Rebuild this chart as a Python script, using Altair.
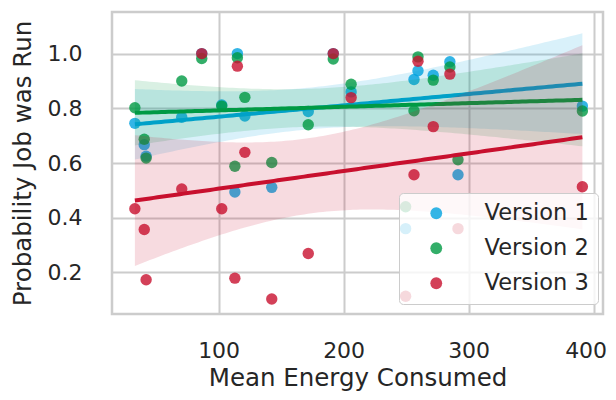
import altair as alt
import pandas as pd
import numpy as np

energy = [33, 40.5, 42, 70.5, 86.5, 102.5, 113, 115, 121, 142.5,
          171.7, 191.7, 206, 249.6, 256.3, 259.5, 271.7, 285, 291.5, 391]
v1 = [0.745, 0.667, 0.625, 0.767, 1.0, 0.812, 0.494, 1.0, 0.772, 0.511,
      0.788, 1.0, 0.86, 0.36, 0.905, 0.937, 0.921, 0.97, 0.557, 0.808]
v2 = [0.802, 0.687, 0.618, 0.90, 0.982, 0.808, 0.588, 0.985, 0.84, 0.602,
      0.74, 0.98, 0.888, 0.44, 0.791, 0.988, 0.903, 0.951, 0.612, 0.79]
v3 = [0.433, 0.357, 0.173, 0.505, 1.0, 0.433, 0.179, 0.954, 0.639, 0.103,
      0.269, 1.0, 0.839, 0.113, 0.557, 0.972, 0.733, 0.925, 0.36, 0.513]
versions = ["Version 1", "Version 2", "Version 3"]
colors = ["#00a3e0", "#009a44", "#c8102e"]
x_ticks = [100, 200, 300, 400]
y_ticks = [0.2, 0.4, 0.6, 0.8, 1.0]

rows = []
for name, vals in zip(versions, [v1, v2, v3]):
    for xv, yv in zip(energy, vals):
        rows.append({"energy": xv, "prob": yv, "version": name})
df = pd.DataFrame(rows)


def huber_fit(x, y, t=1.345, iters=100):
    X = np.column_stack([np.ones_like(x), x])
    beta = np.linalg.lstsq(X, y, rcond=None)[0]
    w = np.ones_like(y)
    for _ in range(iters):
        r = y - X @ beta
        scale = np.median(np.abs(r - np.median(r))) / 0.6745
        u = np.abs(r / scale)
        w = np.where(u <= t, 1.0, t / np.maximum(u, 1e-12))
        W = np.sqrt(w)
        nb = np.linalg.lstsq(X * W[:, None], y * W, rcond=None)[0]
        if np.allclose(nb, beta, atol=1e-10):
            beta = nb
            break
        beta = nb
    return beta, w


band_rows = []
for name, vals in zip(versions, [v1, v2, v3]):
    x = np.array(energy, dtype=float)
    y = np.array(vals, dtype=float)
    (b0, b1), w = huber_fit(x, y)
    r = y - (b0 + b1 * x)
    sw = w.sum()
    xm = (w * x).sum() / sw
    sxx = (w * (x - xm) ** 2).sum()
    s = np.sqrt((w * r ** 2).sum() / (sw - 2))
    grid = np.linspace(x.min(), x.max(), 120)
    se = s * np.sqrt(1.0 / sw + (grid - xm) ** 2 / sxx)
    yh = b0 + b1 * grid
    for g, yy, lo, hi in zip(grid, yh, yh - 1.96 * se, yh + 1.96 * se):
        band_rows.append({"energy": g, "fit": yy, "lo": lo, "hi": hi, "version": name})
band = pd.DataFrame(band_rows)

FONT = "DejaVu Sans"
TXT = "#262626"

xscale = alt.Scale(domain=[14.7, 407.5], nice=False, zero=False)
yscale = alt.Scale(domain=[0.048, 1.152], nice=False, zero=False)
cscale = alt.Scale(domain=versions, range=colors)

xaxis = alt.Axis(values=x_ticks, title="Mean Energy Consumed", labelFontSize=22,
                 titleFontSize=24.5, labelPadding=26, ticks=False, domain=False,
                 labelOffset=alt.condition("datum.value == 400", alt.value(-8), alt.value(0)),
                 titleX=245.5, titleY=64, titleBaseline="middle", titleAlign="center",
                 grid=True)
yaxis = alt.Axis(values=y_ticks, title="Probability Job was Run", format=".1f",
                 labelFontSize=22, titleFontSize=24.5, labelPadding=30, ticks=False,
                 domain=False, titleX=-89, titleY=151, titleAngle=270,
                 titleBaseline="middle", titleAlign="center", grid=True)

legend = alt.Legend(orient="none", legendX=287, legendY=181, title=None,
                    symbolType="circle", symbolSize=140, symbolOpacity=0.8,
                    symbolStrokeWidth=0,
                    labelFontSize=22.5, labelFont=FONT, labelColor=TXT,
                    padding=9, rowPadding=12, symbolOffset=17, labelOffset=37,
                    fillColor="rgba(255,255,255,0.8)", strokeColor="#cccccc",
                    cornerRadius=4)

X = alt.X("energy:Q", scale=xscale, axis=xaxis)
layers = []
for i, name in enumerate(versions):
    pts = alt.Chart(df).transform_filter(alt.datum.version == name).mark_circle(
        size=130, opacity=0.8, clip=True).encode(
        x=X,
        y=alt.Y("prob:Q", scale=yscale, axis=yaxis),
        color=alt.Color("version:N", scale=cscale, legend=legend),
    )
    bnd = alt.Chart(band).transform_filter(alt.datum.version == name).mark_area(
        opacity=0.15, clip=True).encode(
        x=X,
        y=alt.Y("lo:Q", scale=yscale, axis=yaxis),
        y2="hi:Q",
        color=alt.Color("version:N", scale=cscale, legend=legend),
    )
    line = alt.Chart(band).transform_filter(alt.datum.version == name).mark_line(
        strokeWidth=4, clip=True).encode(
        x=X,
        y=alt.Y("fit:Q", scale=yscale, axis=yaxis),
        color=alt.value(colors[i]),
    )
    layers += [pts, bnd, line]

chart = alt.layer(*layers).properties(
    width=491, height=302,
    autosize=alt.AutoSizeParams(type="none"),
    padding={"left": 104, "top": 4, "right": 5, "bottom": 78},
).configure_view(
    stroke="#cccccc", strokeWidth=2.5
).configure_axis(
    labelFont=FONT, titleFont=FONT, labelColor=TXT, titleColor=TXT,
    gridColor="#cccccc", gridWidth=2, titleFontWeight="normal",
).configure_legend(
    labelFont=FONT
)

chart.save("out.html", embed_options={"renderer": "svg", "actions": False})
